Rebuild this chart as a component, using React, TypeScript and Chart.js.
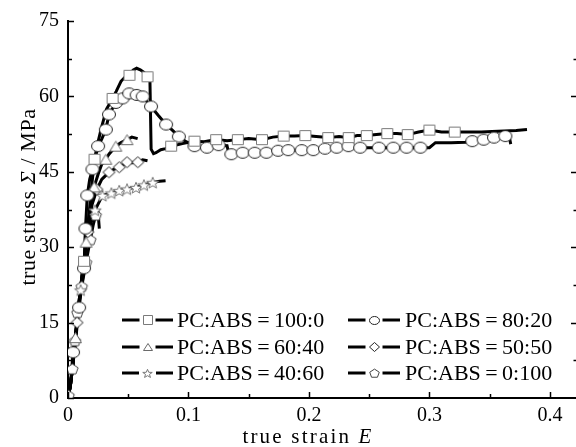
import React, { useEffect, useRef } from "react";
import { Chart, registerables } from "chart.js";
Chart.register(...registerables);

type P = [number, number];

const seriesNames = [
  "PC:ABS\u2009=\u2009100:0",
  "PC:ABS\u2009=\u200980:20",
  "PC:ABS\u2009=\u200960:40",
  "PC:ABS\u2009=\u200950:50",
  "PC:ABS\u2009=\u200940:60",
  "PC:ABS\u2009=\u20090:100",
];

const xMajorTicks = [0, 0.1, 0.2, 0.3, 0.4];
const yMajorTicks = [0, 15, 30, 45, 60, 75];

const line100_0: P[] = [[0,0],[0.002,2.5],[0.004,6.5],[0.006,11.5],[0.008,16.5],[0.010,21],[0.012,25],[0.0133,27.2],[0.015,31],[0.018,38],[0.020,43],[0.022,47.5],[0.025,51],[0.028,54],[0.032,57.5],[0.037,59.6],[0.040,61],[0.044,63],[0.048,64],[0.051,64.2],[0.054,65.2],[0.057,65.6],[0.060,65.3],[0.063,64.8],[0.066,63.9],[0.068,63.3],[0.069,49.5],[0.071,48.6],[0.073,48.8],[0.077,49.4],[0.081,49.6],[0.0856,50.1],[0.095,50.6],[0.105,51.1],[0.113,51.0],[0.123,51.4],[0.132,51.2],[0.141,51.4],[0.150,51.6],[0.161,51.4],[0.170,51.9],[0.179,52.1],[0.188,52.1],[0.197,52.2],[0.206,52.0],[0.216,51.8],[0.225,52.0],[0.233,51.8],[0.240,52.2],[0.248,52.2],[0.256,52.4],[0.265,52.6],[0.273,52.6],[0.282,52.4],[0.291,52.9],[0.300,53.3],[0.310,52.9],[0.321,52.9],[0.332,52.9],[0.343,52.9],[0.352,53.0],[0.362,53.1],[0.372,53.2],[0.381,53.4]];
const line80_20: P[] = [[0,0],[0.002,2.5],[0.0042,9.1],[0.0092,18],[0.011,21.5],[0.0133,25.8],[0.0138,30],[0.0145,33.7],[0.016,40.3],[0.018,43.5],[0.0203,45.5],[0.025,50.1],[0.028,51.5],[0.0314,53.4],[0.034,56.4],[0.0397,58.7],[0.0453,59.6],[0.0508,60.6],[0.057,60.3],[0.062,60.0],[0.0689,58.0],[0.075,56.2],[0.0814,54.4],[0.087,53.2],[0.092,52.0],[0.098,51.0],[0.105,50.1],[0.115,49.8],[0.125,50.3],[0.132,50.2],[0.1335,48.6],[0.1356,48.5],[0.145,48.8],[0.155,48.8],[0.1647,48.8],[0.1744,49.2],[0.1828,49.3],[0.194,49.3],[0.2036,49.3],[0.2133,49.6],[0.223,49.8],[0.2328,50.1],[0.2425,49.8],[0.258,49.8],[0.27,49.8],[0.281,49.8],[0.2925,49.8],[0.30,49.8],[0.305,50.8],[0.318,50.8],[0.33,50.9],[0.3356,51.1],[0.345,51.4],[0.3536,51.8],[0.363,52.1],[0.366,52.3],[0.3675,50.5]];
const line60_40: P[] = [[0,0],[0.002,2.5],[0.004,6.5],[0.0062,12],[0.008,16.5],[0.010,21],[0.012,25],[0.015,31],[0.018,37],[0.0217,42],[0.025,44.5],[0.028,46.5],[0.0314,47.5],[0.034,48.5],[0.0397,50.1],[0.044,50.8],[0.049,51.4],[0.053,51.9],[0.0578,51.6]];
const line50_50: P[] = [[0,0],[0.002,2.5],[0.004,6.5],[0.0075,15],[0.010,21],[0.013,27],[0.0165,33],[0.020,38.5],[0.024,41.5],[0.028,43.5],[0.034,44.9],[0.038,45.5],[0.0425,45.9],[0.049,46.9],[0.053,46.8],[0.058,46.9],[0.062,47.4],[0.066,47.2]];
const line40_60: P[] = [[0,0],[0.002,2.5],[0.004,6.5],[0.007,13],[0.0105,21.5],[0.014,28.5],[0.018,34],[0.0225,37.4],[0.0286,40.3],[0.036,40.8],[0.0425,41.3],[0.049,41.6],[0.0564,41.9],[0.063,42.4],[0.0703,42.9],[0.076,43.1],[0.081,43.2]];
const line0_100: P[] = [[0,0],[0.0005,0.5],[0.002,2.5],[0.0036,5.8],[0.0058,11.4],[0.0078,17],[0.0114,22.2],[0.015,27],[0.0185,31.5],[0.021,34.5],[0.023,36.4],[0.025,36.8],[0.026,33.7]];

const marks100_0: P[] = [[0.0133,27.2],[0.022,47.5],[0.037,59.6],[0.051,64.2],[0.066,63.9],[0.0856,50.1],[0.105,51.1],[0.123,51.4],[0.141,51.4],[0.161,51.4],[0.179,52.1],[0.197,52.2],[0.216,51.8],[0.233,51.8],[0.248,52.2],[0.265,52.6],[0.282,52.4],[0.300,53.3],[0.321,52.9]];
const marks80_20: P[] = [[0.0042,9.1],[0.0092,18],[0.0133,25.8],[0.0145,33.7],[0.016,40.3],[0.0203,45.5],[0.025,50.1],[0.0314,53.4],[0.034,56.4],[0.0397,58.7],[0.0453,59.6],[0.0508,60.6],[0.057,60.3],[0.062,60.0],[0.0689,58.0],[0.0814,54.4],[0.092,52.0],[0.105,50.1],[0.1153,49.8],[0.125,50.3],[0.1356,48.5],[0.145,48.8],[0.155,48.8],[0.1647,48.8],[0.1744,49.2],[0.1828,49.3],[0.194,49.3],[0.2036,49.3],[0.2133,49.6],[0.223,49.8],[0.2328,50.1],[0.2425,49.8],[0.258,49.8],[0.27,49.8],[0.281,49.8],[0.2925,49.8],[0.3356,51.1],[0.345,51.4],[0.3536,51.8],[0.363,52.1]];
const marks60_40: P[] = [[0.0062,12],[0.015,31],[0.0217,42],[0.0314,47.5],[0.0397,50.1],[0.049,51.4]];
const marks50_50: P[] = [[0.0075,15],[0.0165,33],[0.024,41.5],[0.034,44.9],[0.0425,45.9],[0.049,46.9],[0.058,46.9]];
const marks40_60: P[] = [[0.0105,21.5],[0.0225,37.4],[0.0286,40.3],[0.036,40.8],[0.0425,41.3],[0.049,41.6],[0.0564,41.9],[0.063,42.4],[0.0703,42.9]];
const marks0_100: P[] = [[0.0005,0.5],[0.0036,5.8],[0.0058,11.4],[0.0078,17],[0.0114,22.2],[0.015,27],[0.0185,31.5],[0.023,36.4]];

const lines = [line100_0, line80_20, line60_40, line50_50, line40_60, line0_100];
const marks = [marks100_0, marks80_20, marks60_40, marks50_50, marks40_60, marks0_100];
const shapes = ["square", "circle", "triangle", "diamond", "star", "pentagon"];
const strokes = ["#7a7a7a", "#222222", "#6a6a6a", "#222222", "#777777", "#444444"];
const sizes: [number, number][] = [[12, 11], [14, 12], [13, 11], [13, 12], [14, 13], [13, 12]];
const legendSizes: [number, number][] = [[10, 10], [11, 9], [10, 8], [11, 10], [11, 10], [11, 10]];
// legend layout: [column, row]
const legendSlots: [number, number][] = [[0, 0], [1, 0], [0, 1], [1, 1], [0, 2], [1, 2]];

const FONT = '"Liberation Serif", "DejaVu Serif", serif';
const CANVAS_W = 584;

function makeMarker(kind: string, w: number, h: number, stroke: string) {
  const c = document.createElement("canvas");
  c.width = w + 2;
  c.height = h + 2;
  const g = c.getContext("2d")!;
  g.fillStyle = "#ffffff";
  g.strokeStyle = stroke;
  g.lineWidth = 1;
  const cx = (w + 2) / 2, cy = (h + 2) / 2, rx = w / 2 - 0.5, ry = h / 2 - 0.5;
  g.beginPath();
  if (kind === "square") {
    g.rect(1.5, 1.5, w - 1, h - 1);
  } else if (kind === "circle") {
    g.ellipse(cx, cy, rx, ry, 0, 0, Math.PI * 2);
  } else if (kind === "triangle") {
    g.moveTo(cx, 1.5);
    g.lineTo(w + 0.5, h + 0.5);
    g.lineTo(1.5, h + 0.5);
    g.closePath();
  } else if (kind === "diamond") {
    g.moveTo(cx, 1.5);
    g.lineTo(w + 0.5, cy);
    g.lineTo(cx, h + 0.5);
    g.lineTo(1.5, cy);
    g.closePath();
  } else if (kind === "star") {
    for (let i = 0; i < 10; i++) {
      const a = -Math.PI / 2 + (i * Math.PI) / 5;
      const r = i % 2 ? 0.42 : 1;
      const px = cx + r * rx * Math.cos(a);
      const py = cy + 0.8 + r * ry * Math.sin(a);
      if (i === 0) g.moveTo(px, py);
      else g.lineTo(px, py);
    }
    g.closePath();
  } else {
    for (let i = 0; i < 5; i++) {
      const a = -Math.PI / 2 + (i * 2 * Math.PI) / 5;
      const px = cx + rx * Math.cos(a);
      const py = cy + 0.6 + ry * Math.sin(a);
      if (i === 0) g.moveTo(px, py);
      else g.lineTo(px, py);
    }
    g.closePath();
  }
  g.fill();
  g.stroke();
  return c;
}

export default function App() {
  const ref = useRef<HTMLCanvasElement | null>(null);

  useEffect(() => {
    if (!ref.current) return;
    const markerImgs = shapes.map((s, i) => makeMarker(s, sizes[i][0], sizes[i][1], strokes[i]));
    const legendImgs = shapes.map((s, i) => makeMarker(s, legendSizes[i][0], legendSizes[i][1], strokes[i]));

    const datasets: any[] = [];
    marks.forEach((m, i) => {
      datasets.push({
        label: seriesNames[i] + " markers",
        data: m.map(([x, y]) => ({ x, y })),
        showLine: false,
        pointStyle: markerImgs[i],
        pointRadius: 6,
        order: 0,
      });
    });
    lines.forEach((l, i) => {
      datasets.push({
        label: seriesNames[i],
        data: l.map(([x, y]) => ({ x, y })),
        showLine: true,
        borderColor: "#000",
        borderWidth: 3,
        pointRadius: 0,
        tension: 0,
        order: 1,
      });
    });

    const drawParts = (ctx: CanvasRenderingContext2D, parts: [string, string][], spacing: number) => {
      const sp = `${spacing}px`;
      (ctx as any).letterSpacing = sp;
      let total = 0;
      parts.forEach(([t, f]) => { ctx.font = f; total += ctx.measureText(t).width; });
      let x = -total / 2;
      parts.forEach(([t, f]) => { ctx.font = f; ctx.fillText(t, x, 0); x += ctx.measureText(t).width; });
      (ctx as any).letterSpacing = "0px";
    };

    const decor = {
      id: "decor",
      afterDraw(chart: any) {
        const ctx = chart.ctx as CanvasRenderingContext2D;
        const xs = chart.scales.x;
        const ys = chart.scales.y;
        const area = chart.chartArea;
        ctx.save();
        ctx.strokeStyle = "#000";
        ctx.lineWidth = 1.5;
        // x ticks (inward)
        const xAll: [number, boolean][] = [];
        xMajorTicks.forEach((v, i) => {
          xAll.push([v, true]);
          if (i < xMajorTicks.length - 1) xAll.push([(v + xMajorTicks[i + 1]) / 2, false]);
        });
        xAll.forEach(([v, major]) => {
          const px = Math.round(xs.getPixelForValue(v)) + 0.5;
          ctx.beginPath();
          ctx.moveTo(px, area.bottom);
          ctx.lineTo(px, area.bottom - (major ? 6 : 4));
          ctx.stroke();
        });
        const yAll: [number, boolean][] = [];
        yMajorTicks.forEach((v, i) => {
          yAll.push([v, true]);
          if (i < yMajorTicks.length - 1) yAll.push([(v + yMajorTicks[i + 1]) / 2, false]);
        });
        const rightEdge = 575;
        yAll.forEach(([v, major]) => {
          const py = Math.round(ys.getPixelForValue(v)) + 0.5;
          ctx.beginPath();
          ctx.moveTo(area.left, py);
          ctx.lineTo(area.left + (major ? 6 : 4), py);
          ctx.stroke();
          if (v > 0 && v < 75) {
            ctx.beginPath();
            ctx.moveTo(rightEdge + 1, py);
            ctx.lineTo(rightEdge + 1 - (major ? 5 : 2.5), py);
            ctx.stroke();
          }
        });

        ctx.fillStyle = "#000";
        const normalT = `21px ${FONT}`;
        const italicT = `italic 21px ${FONT}`;
        // x title
        ctx.save();
        ctx.translate(308, 443);
        ctx.textAlign = "left";
        ctx.textBaseline = "alphabetic";
        drawParts(ctx, [["true strain ", normalT], ["E", italicT]], 2.2);
        ctx.restore();
        // y title
        ctx.save();
        ctx.translate(29, 197);
        ctx.rotate(-Math.PI / 2);
        ctx.textAlign = "left";
        ctx.textBaseline = "middle";
        const normalY = `22px ${FONT}`;
        const italicY = `italic 22px ${FONT}`;
        drawParts(ctx, [["true stress ", normalY], ["\u03A3", italicY], [" / MPa", normalY]], 0.6);
        ctx.restore();

        // legend
        const colLine = [[122, 173], [348, 400]];
        const colText = [177, 405];
        const rowY = [320, 347, 373];
        legendSlots.forEach(([c, r], i) => {
          const y = rowY[r];
          ctx.lineWidth = 3;
          ctx.strokeStyle = "#000";
          ctx.beginPath();
          ctx.moveTo(colLine[c][0], y);
          ctx.lineTo(colLine[c][1], y);
          ctx.stroke();
          const img = legendImgs[i];
          const mx = (colLine[c][0] + colLine[c][1]) / 2;
          ctx.fillStyle = "#fff";
          ctx.fillRect(mx - img.width / 2 - 2, y - img.height / 2, img.width + 4, img.height);
          ctx.drawImage(img, Math.round(mx - img.width / 2), Math.round(y - img.height / 2));
          ctx.fillStyle = "#000";
          ctx.font = `22px ${FONT}`;
          ctx.textAlign = "left";
          ctx.textBaseline = "middle";
          ctx.fillText(seriesNames[i], colText[c], y + 1);
        });
        ctx.restore();
      },
    };

    const chart = new Chart(ref.current, {
      type: "scatter",
      data: { datasets },
      options: {
        animation: false,
        responsive: false,
        devicePixelRatio: 1,
        layout: { padding: { top: 17, right: 0, left: 0, bottom: 0 } },
        plugins: { legend: { display: false }, tooltip: { enabled: false } },
        scales: {
          x: {
            type: "linear",
            min: 0,
            max: 0.4225,
            afterBuildTicks: (s: any) => { s.ticks = xMajorTicks.map((v) => ({ value: v })); },
            afterFit: (s: any) => { s.height = 49; },
            grid: { display: false, drawTicks: false },
            border: { display: true, color: "#000", width: 2 },
            ticks: {
              color: "#000",
              font: { family: FONT, size: 20 },
              padding: 6,
              maxRotation: 0,
              callback: (v: any) => (v === 0 ? "0" : String(Number(v).toFixed(1))),
            },
          },
          y: {
            type: "linear",
            min: 0,
            max: 75,
            afterBuildTicks: (s: any) => { s.ticks = yMajorTicks.map((v) => ({ value: v })); },
            afterFit: (s: any) => { s.width = 68; },
            grid: { display: false, drawTicks: false },
            border: { display: true, color: "#000", width: 2 },
            ticks: {
              color: "#000",
              font: { family: FONT, size: 20 },
              padding: 9,
              callback: (v: any) => String(v),
            },
          },
        },
      },
      plugins: [decor],
    });
    return () => chart.destroy();
  }, []);

  return (
    <div style={{ position: "absolute", left: 0, top: 0, width: 576, height: 447, overflow: "hidden", background: "#fff" }}>
      <canvas ref={ref} width={CANVAS_W} height={447} style={{ display: "block", width: CANVAS_W, height: 447 }} />
    </div>
  );
}
